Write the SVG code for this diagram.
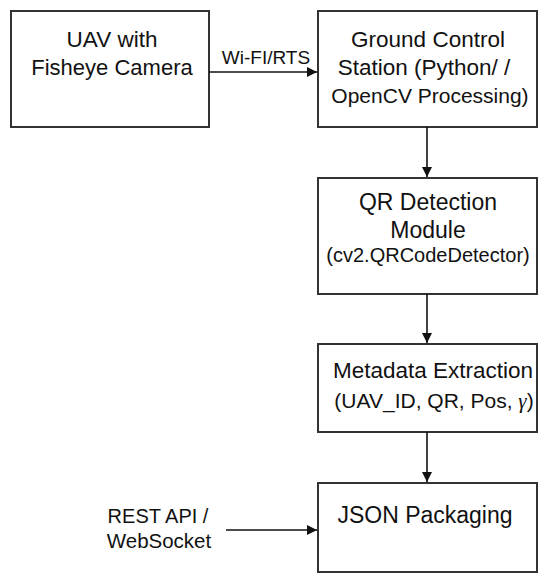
<svg xmlns="http://www.w3.org/2000/svg" width="550" height="584" viewBox="0 0 550 584">
<style>
.box{fill:#fff;stroke:#333;stroke-width:2}
text{font-family:"Liberation Sans",Arial,sans-serif;fill:#111}
.t{font-size:22.5px;text-anchor:middle}
.l{font-size:19px;text-anchor:middle}
.c{stroke:#111;stroke-width:1.6;fill:none}
</style>
<defs>
<marker id="ah" viewBox="0 0 10 10" refX="10" refY="5" markerWidth="10" markerHeight="10" markerUnits="userSpaceOnUse" orient="auto">
<path d="M0,0 L10,5 L0,10 z" fill="#111"/>
</marker>
</defs>
<rect width="550" height="584" fill="#fff"/>
<g id="uav">
<rect class="box" x="11" y="11" width="198" height="116"/>
<text class="t" x="112" y="47">UAV with</text>
<text class="t" x="112" y="75" style="font-size:22px">Fisheye Camera</text>
</g>
<g id="gcs">
<rect class="box" x="318" y="11" width="219" height="116"/>
<text class="t" x="428" y="47">Ground Control</text>
<text class="t" x="424" y="75">Station (Python/ /</text>
<text class="t" x="430" y="103" style="font-size:21px">OpenCV Processing)</text>
</g>
<g id="qr">
<rect class="box" x="318" y="178" width="219" height="116"/>
<text class="t" x="428" y="210" style="font-size:23px">QR Detection</text>
<text class="t" x="428" y="238" style="font-size:23px">Module</text>
<text class="t" x="428" y="262" style="font-size:20px">(cv2.QRCodeDetector)</text>
</g>
<g id="meta">
<rect class="box" x="318" y="344" width="219" height="88"/>
<text class="t" x="433" y="378">Metadata Extraction</text>
<text class="t" x="434" y="408" style="font-size:21px">(UAV_ID, QR, Pos, <tspan font-family="'Liberation Serif',serif" font-style="italic">γ</tspan>)</text>
</g>
<g id="json">
<rect class="box" x="318" y="483" width="219" height="89"/>
<text class="t" x="425" y="523" style="font-size:23px">JSON Packaging</text>
</g>
<g id="rest">
<text class="l" x="158" y="523" style="font-size:20px">REST API /</text>
<text class="l" x="159" y="548" style="font-size:20.5px">WebSocket</text>
</g>
<g id="connectors">
<line class="c" x1="209" y1="72" x2="317" y2="72" marker-end="url(#ah)"/>
<text class="l" x="266" y="64">Wi-FI/RTS</text>
<line class="c" x1="427" y1="127" x2="427" y2="177" marker-end="url(#ah)"/>
<line class="c" x1="427" y1="294" x2="427" y2="343" marker-end="url(#ah)"/>
<line class="c" x1="427" y1="432" x2="427" y2="482" marker-end="url(#ah)"/>
<line class="c" x1="226" y1="530" x2="317" y2="530" marker-end="url(#ah)"/>
</g>
</svg>
